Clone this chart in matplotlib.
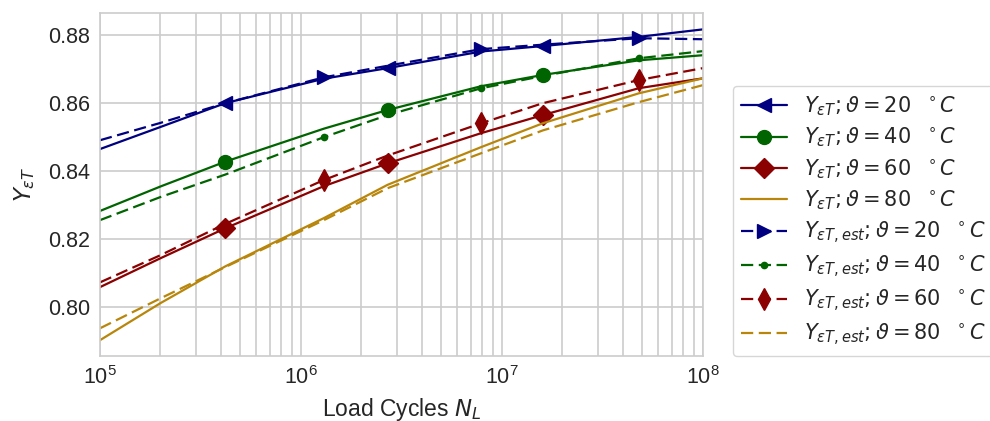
import matplotlib
matplotlib.use('Agg')
import matplotlib.pyplot as plt
import numpy as np
import seaborn as sns

sns.set_style('whitegrid')
plt.rcParams['font.family'] = ['Liberation Sans', 'DejaVu Sans']
plt.rcParams['mathtext.fontset'] = 'dejavusans'

# load cycles
N_L = [1e5, 2e5, 4.2e5, 1.3e6, 2.7e6, 7.9e6, 1.6e7, 4.8e7, 1e8]

temps = [20, 40, 60, 80]

# measured Y_eT
Y_20 = [0.8465, 0.8530, 0.8600, 0.8672, 0.8703, 0.8752, 0.8768, 0.8795, 0.8817]
Y_40 = [0.8283, 0.8355, 0.8428, 0.8525, 0.8580, 0.8650, 0.8683, 0.8726, 0.8741]
Y_60 = [0.8059, 0.8144, 0.8232, 0.8356, 0.8423, 0.8512, 0.8565, 0.8644, 0.8673]
Y_80 = [0.7903, 0.8012, 0.8120, 0.8262, 0.8360, 0.8471, 0.8541, 0.8629, 0.8673]

# estimated Y_eT,est
Yest_20 = [0.8491, 0.8542, 0.8600, 0.8676, 0.8710, 0.8759, 0.8772, 0.8791, 0.8788]
Yest_40 = [0.8256, 0.8324, 0.8390, 0.8500, 0.8565, 0.8644, 0.8680, 0.8732, 0.8753]
Yest_60 = [0.8073, 0.8153, 0.8245, 0.8374, 0.8446, 0.8541, 0.8600, 0.8668, 0.8703]
Yest_80 = [0.7938, 0.8026, 0.8118, 0.8256, 0.8350, 0.8453, 0.8520, 0.8603, 0.8653]

colors = ['#000080', '#006400', '#8b0000', '#b8860b']
meas_markers = ['<', 'o', 'D', None]
est_markers = ['>', '.', 'd', None]
est_msize = [10, 9, 11, 0]

fig = plt.figure(figsize=(9.9, 4.21), dpi=100)
ax = fig.add_axes([0.101, 0.154, 0.609, 0.815])

meas = [Y_20, Y_40, Y_60, Y_80]
est = [Yest_20, Yest_40, Yest_60, Yest_80]

for i, t in enumerate(temps):
    ax.plot(N_L, meas[i], color=colors[i], lw=1.6, marker=meas_markers[i],
            ms=10, markevery=[2, 4, 6],
            label=r'$Y_{\varepsilon T}; \vartheta = %d\ \ ^\circ C$' % t)
for i, t in enumerate(temps):
    ax.plot(N_L, est[i], color=colors[i], lw=1.6, ls=(0, (5.5, 2.5)),
            marker=est_markers[i], ms=est_msize[i], markevery=[3, 5, 7],
            label=r'$Y_{\varepsilon T, est}; \vartheta = %d\ \ ^\circ C$' % t)

ax.set_xscale('log')
ax.set_xlim(1e5, 1e8)
ax.set_ylim(0.7856, 0.8865)
ax.set_yticks([0.80, 0.82, 0.84, 0.86, 0.88])
ax.set_yticklabels(['0.80', '0.82', '0.84', '0.86', '0.88'])
ax.grid(True, which='both', color='#cccccc', lw=1.2)
ax.tick_params(axis='both', which='both', labelsize=15.5, length=0, pad=7)
for s in ax.spines.values():
    s.set_color('#cccccc')
    s.set_linewidth(1.2)

ax.set_xlabel(r'Load Cycles $N_L$', fontsize=16.5, labelpad=5)
ax.set_ylabel(r'$Y_{\varepsilon T}$', fontsize=16.5, labelpad=8)

leg = ax.legend(loc='lower left', bbox_to_anchor=(733 / 990, 1 - 356 / 421),
                bbox_transform=fig.transFigure, borderaxespad=0,
                fontsize=15, handlelength=2.2, labelspacing=0.37,
                frameon=True)
leg.get_frame().set_edgecolor('#cccccc')

fig.savefig('out.png', dpi=100)
